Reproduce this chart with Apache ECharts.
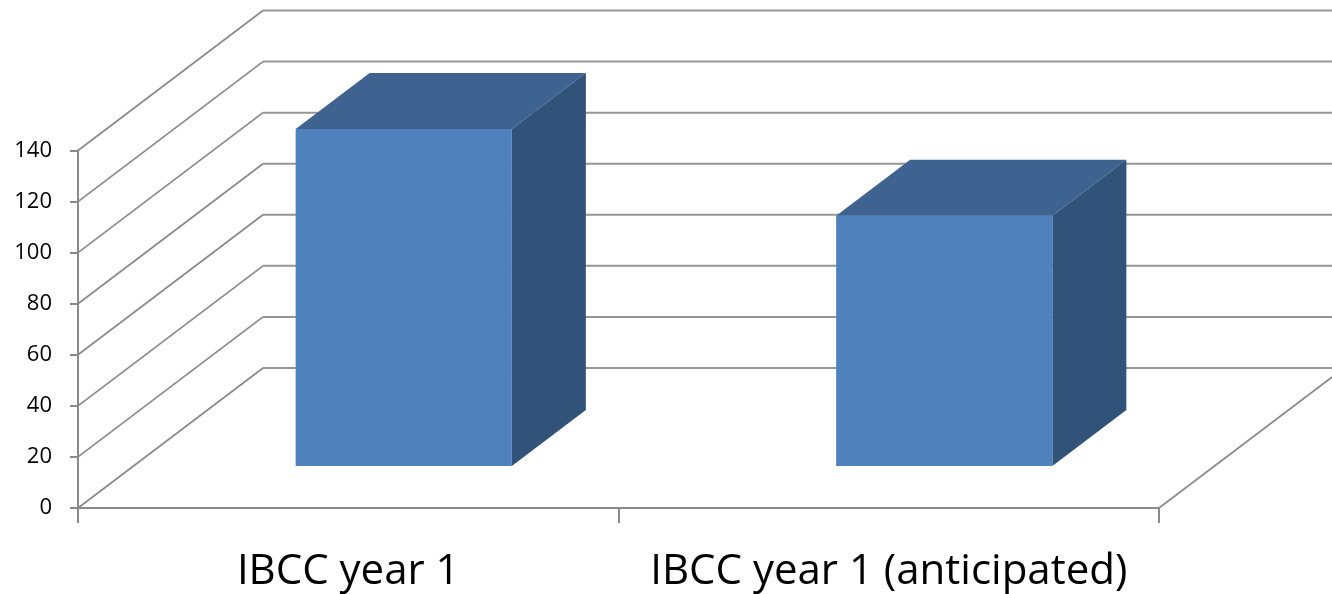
<!DOCTYPE html>
<html>
<head>
<meta charset="utf-8">
<style>
  html, body { margin: 0; padding: 0; background: #fff; }
  #main { width: 1332px; height: 594px; }
</style>
<script src="https://cdn.jsdelivr.net/npm/echarts@6/dist/echarts.min.js"></script>
</head>
<body>
<div id="main"></div>
<script>
var categories = ['IBCC year 1', 'IBCC year 1 (anticipated)']
var barValues = [132, 98]
var yTicks = [0, 20, 40, 60, 80, 100, 120, 140]

// fake 3d: how far the back wall sits from the front plane, in px
var wallDx = 185
var wallDy = -140
// where the box sits inside the floor depth (0 front, 1 back)
var depthFront = 0.3
var depthBack = 0.7
var barShare = 0.4

var lineColor = '#8a8a8a'

var myChart = echarts.init(document.getElementById('main'))

function renderWall(params, api) {
  var value = api.value(0)
  // left edge of the first band and right edge of the last one
  var band = api.size([1, 0])[0]
  var first = api.coord([0, value])
  var last = api.coord([categories.length - 1, value])
  var left = first[0] - band / 2
  var right = last[0] + band / 2
  var y = first[1]
  var slant = { stroke: lineColor, lineWidth: 1.7, fill: null }
  var flat = { stroke: '#969696', lineWidth: 2, fill: null }
  var children = [
    {
      type: 'line',
      shape: { x1: left, y1: y, x2: left + wallDx, y2: y + wallDy },
      style: slant
    },
    {
      type: 'line',
      shape: { x1: left + wallDx, y1: y + wallDy, x2: right + wallDx, y2: y + wallDy },
      style: flat
    }
  ]
  // floor edge on the right
  if (value === 0) {
    children.push({
      type: 'line',
      shape: { x1: right, y1: y, x2: right + wallDx, y2: y + wallDy },
      style: slant
    })
  }
  return { type: 'group', children: children }
}

function renderBox(params, api) {
  var index = api.value(0)
  var base = api.coord([index, 0])
  var top = api.coord([index, api.value(1)])
  var band = api.size([1, 0])[0]
  var half = band * barShare / 2
  var cx = base[0] + wallDx * depthFront
  var yBottom = base[1] + wallDy * depthFront
  var yTop = top[1] + wallDy * depthFront
  var l = cx - half
  var r = cx + half
  var dx = wallDx * (depthBack - depthFront)
  var dy = wallDy * (depthBack - depthFront)
  return {
    type: 'group',
    children: [
      {
        type: 'polygon',
        shape: { points: [[l, yTop], [r, yTop], [r + dx, yTop + dy], [l + dx, yTop + dy]] },
        style: { fill: '#3e6391' }
      },
      {
        type: 'polygon',
        shape: { points: [[r, yTop], [r + dx, yTop + dy], [r + dx, yBottom + dy], [r, yBottom]] },
        style: { fill: '#31537a' }
      },
      {
        type: 'rect',
        shape: { x: l, y: yTop, width: r - l, height: yBottom - yTop },
        style: { fill: '#4f81bd' }
      }
    ]
  }
}

var option = {
  animation: false,
  backgroundColor: '#fff',
  grid: { left: 78, right: 173, top: 150.5, bottom: 86 },
  xAxis: {
    type: 'category',
    data: categories,
    axisLine: { lineStyle: { color: lineColor, width: 2 } },
    axisTick: { show: true, interval: 0, length: 15, lineStyle: { color: lineColor, width: 2 } },
    axisLabel: { interval: 0, color: '#000', fontFamily: 'Open Sans', fontSize: 42, margin: 43 }
  },
  yAxis: {
    type: 'value',
    min: 0,
    max: 140,
    interval: 20,
    splitLine: { show: false },
    axisLine: { show: true, lineStyle: { color: lineColor, width: 2 } },
    axisTick: { show: true, length: 8, lineStyle: { color: lineColor, width: 2 } },
    axisLabel: { color: '#000', fontFamily: 'Open Sans', fontSize: 22, margin: 26, padding: [10, 0, 0, 0] }
  },
  series: [
    {
      type: 'custom',
      renderItem: renderWall,
      encode: { y: 0 },
      data: yTicks.map(function (t) { return [t] }),
      silent: true,
      z: 1
    },
    {
      type: 'custom',
      renderItem: renderBox,
      encode: { x: 0, y: 1 },
      data: barValues.map(function (v, i) { return [i, v] }),
      z: 3
    }
  ]
}

myChart.setOption(option)
</script>
</body>
</html>
